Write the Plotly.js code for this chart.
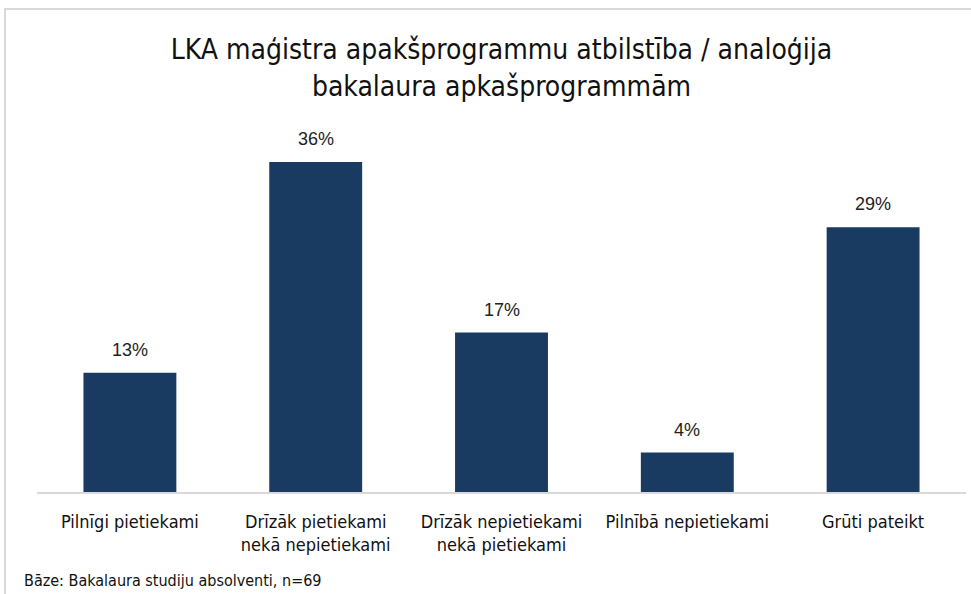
<!DOCTYPE html>
<html>
<head>
<meta charset="utf-8">
<script src="https://cdn.plot.ly/plotly-3.0.1.min.js"></script>
<style>
  html, body { margin: 0; padding: 0; background: #fff; }
  #wrap { position: relative; width: 971px; height: 594px; overflow: hidden; }
  #chart { width: 971px; height: 594px; }
  #frame { position: absolute; left: 4px; top: 8px; width: 1000px; height: 700px;
           border-top: 2px solid #d9d9d9; border-left: 2px solid #d9d9d9; pointer-events: none; }
</style>
</head>
<body>
<div id="wrap">
  <div id="chart"></div>
  <div id="frame"></div>
</div>
<script>
const categories = [
  "Pilnīgi pietiekami",
  "Drīzāk pietiekami<br>nekā nepietiekami",
  "Drīzāk nepietiekami<br>nekā pietiekami",
  "Pilnībā nepietiekami",
  "Grūti pateikt"
];
const values = [13.0, 36.0, 17.4, 4.3, 28.9];
const valueLabels = ["13%", "36%", "17%", "4%", "29%"];

const titleText = "LKA maģistra apakšprogrammu atbilstība / analoģija<br>bakalaura apkašprogrammām";
const footnote = "Bāze: Bakalaura studiju absolventi, n=69";

const narrow = "'Liberation Sans Narrow', 'Arial Narrow', 'DejaVu Sans Condensed', sans-serif";

const trace = {
  type: "bar",
  x: categories,
  y: values,
  marker: { color: "#193b61", line: { width: 0 } },
  width: 0.5,
  hoverinfo: "skip"
};

const annotations = categories.map((c, i) => ({
  x: c, y: values[i], xref: "x", yref: "y",
  text: valueLabels[i], showarrow: false,
  yanchor: "bottom", yshift: 11,
  font: { family: "'Liberation Sans', Arial, sans-serif", size: 18, color: "#222" }
}));
annotations.push({
  xref: "paper", yref: "paper", x: -0.016, y: 0, xanchor: "left", yanchor: "top",
  yshift: -77, text: footnote, showarrow: false,
  font: { family: narrow, size: 16, color: "#111" }
});

const layout = {
  width: 971, height: 594,
  paper_bgcolor: "rgba(0,0,0,0)", plot_bgcolor: "rgba(0,0,0,0)",
  margin: { l: 37, r: 5, t: 130, b: 102 },
  title: {
    text: titleText, x: 0.5, xanchor: "center", xref: "paper",
    y: 0.90, yanchor: "top",
    font: { family: narrow, size: 28, color: "#111" }
  },
  xaxis: {
    showline: true, linecolor: "#d9d9d9", linewidth: 2,
    ticks: "", showgrid: false, zeroline: false,
    ticklabelstandoff: 12,
    tickfont: { family: narrow, size: 18, color: "#111" },
    automargin: false
  },
  yaxis: {
    range: [0, 39.5], showgrid: false, zeroline: false, showticklabels: false,
    showline: false, ticks: "", fixedrange: true
  },
  annotations: annotations,
  showlegend: false,
  bargap: 0.5
};

Plotly.newPlot("chart", [trace], layout, { displayModeBar: false, staticPlot: true });
</script>
</body>
</html>
